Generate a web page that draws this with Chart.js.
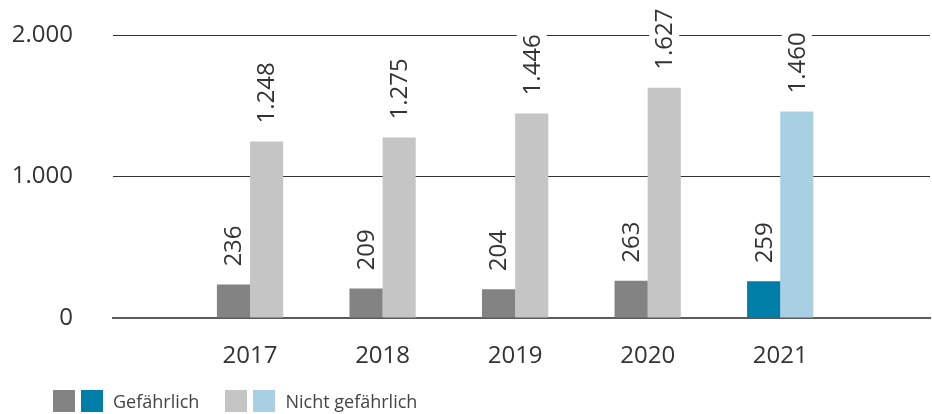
<!DOCTYPE html>
<html>
<head>
<meta charset="utf-8">
<script src="https://cdn.jsdelivr.net/npm/chart.js@4"></script>
<style>
    html, body { margin: 0; padding: 0; background: #fff; }
    #wrap { position: relative; width: 932px; height: 414px; }
    #legende { position: absolute; left: 53px; top: 390px; display: flex; align-items: center;
        font-family: 'Open Sans', sans-serif; font-size: 18px; color: #444; }
    .sq { width: 22px; height: 22px; display: inline-block; margin-right: 6px; }
    .lbl { margin-left: 4px; margin-right: 26px; line-height: 22px; }
</style>
</head>
<body>
<div id="wrap">
    <canvas id="chartAbfall" width="932" height="414"></canvas>
    <div id="legende">
        <span class="sq" style="background:#838383"></span>
        <span class="sq" style="background:#007ea7"></span>
        <span class="lbl">Gefährlich</span>
        <span class="sq" style="background:#c5c5c5"></span>
        <span class="sq" style="background:#a9cfe2"></span>
        <span class="lbl">Nicht gefährlich</span>
    </div>
</div>
<script>
const jahre = [2017, 2018, 2019, 2020, 2021];
const gefaehrlich = [236, 209, 204, 263, 259];
const nichtGefaehrlich = [1248, 1275, 1446, 1627, 1460];
const yTicks = [0, 1000, 2000];

const farbeDunkel = ['#838383', '#838383', '#838383', '#838383', '#007ea7'];
const farbeHell = ['#c5c5c5', '#c5c5c5', '#c5c5c5', '#c5c5c5', '#a9cfe2'];

function formatDe(v) {
    return String(v).replace(/\B(?=(\d{3})+(?!\d))/g, '.');
}

const schrift = "'Open Sans', sans-serif";

const wertLabels = {
    id: 'wertLabels',
    afterDatasetsDraw: function (chart) {
        const ctx = chart.ctx;
        chart.data.datasets.forEach(function (ds, i) {
            const meta = chart.getDatasetMeta(i);
            meta.data.forEach(function (bar, j) {
                const txt = formatDe(ds.data[j].y);
                ctx.save();
                ctx.font = '24px ' + schrift;
                ctx.translate(bar.x, bar.y - 18);
                ctx.rotate(-Math.PI / 2);
                const w = ctx.measureText(txt).width;
                ctx.fillStyle = '#fff';
                ctx.fillRect(-2, -15, w + 6, 30);
                ctx.fillStyle = '#333';
                ctx.textAlign = 'left';
                ctx.textBaseline = 'middle';
                ctx.fillText(txt, 0, 1);
                ctx.restore();
            });
        });
    }
};

new Chart(document.getElementById('chartAbfall').getContext('2d'), {
    type: 'bar',
    data: {
        datasets: [
            {
                label: 'Gefährlich',
                data: jahre.map(function (j, i) { return { x: j, y: gefaehrlich[i] }; }),
                backgroundColor: farbeDunkel,
                categoryPercentage: 0.5,
                barPercentage: 1
            },
            {
                label: 'Nicht gefährlich',
                data: jahre.map(function (j, i) { return { x: j, y: nichtGefaehrlich[i] }; }),
                backgroundColor: farbeHell,
                categoryPercentage: 0.5,
                barPercentage: 1
            }
        ]
    },
    options: {
        responsive: false,
        animation: false,
        layout: { padding: { top: 35, right: 2, left: 0, bottom: 0 } },
        plugins: { legend: { display: false }, tooltip: { enabled: false } },
        scales: {
            x: {
                type: 'linear',
                offset: false,
                min: 2015.966,
                max: 2022.13,
                z: 1,
                afterFit: function (s) { s.height = 96; },
                grid: { display: false, drawTicks: false },
                border: { display: true, color: '#5a5a5a', width: 2 },
                afterBuildTicks: function (s) {
                    s.ticks = jahre.map(function (j) { return { value: j }; });
                },
                ticks: {
                    autoSkip: false,
                    maxRotation: 0,
                    padding: 24,
                    color: '#333',
                    font: { family: schrift, size: 24 },
                    callback: function (v) { return String(v); }
                }
            },
            y: {
                min: 0,
                max: 2000,
                afterFit: function (s) {
                    s.width = 113;
                    s.paddingTop = 0;
                    s.paddingBottom = 0;
                },
                afterBuildTicks: function (s) {
                    s.ticks = yTicks.map(function (v) { return { value: v }; });
                },
                grid: {
                    drawTicks: false,
                    color: function (c) { return c.tick && c.tick.value === 0 ? 'rgba(0,0,0,0)' : '#333'; },
                    lineWidth: 1
                },
                border: { display: false },
                ticks: {
                    padding: 40,
                    color: '#333',
                    font: { family: schrift, size: 24 },
                    callback: function (v) { return formatDe(v); }
                }
            }
        }
    },
    plugins: [wertLabels]
});
</script>
</body>
</html>
